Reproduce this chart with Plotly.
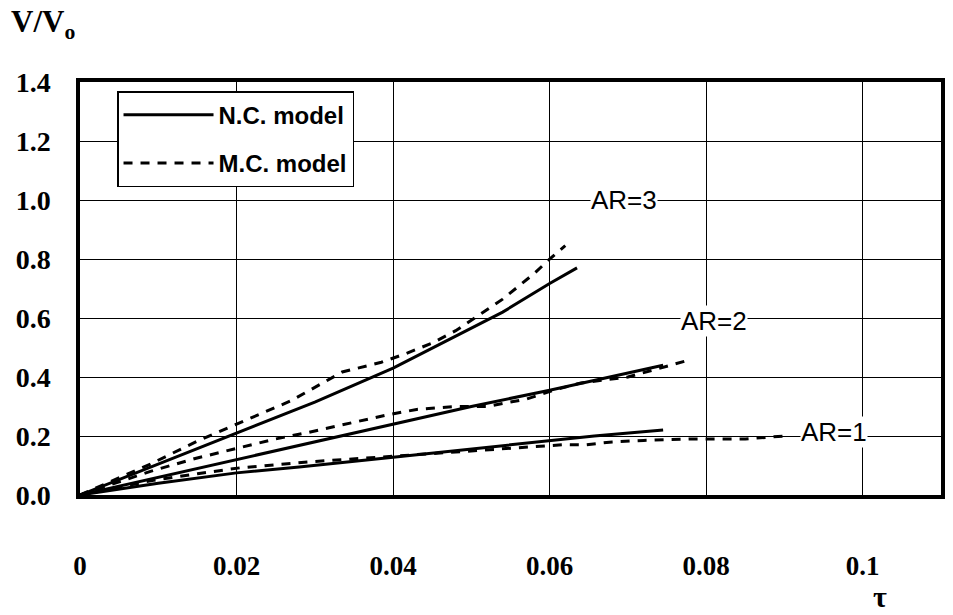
import plotly.graph_objects as go

# ---- data (relative to its grid) ----
ar3_nc_x = [0, 0.01, 0.02, 0.03, 0.04, 0.05, 0.054, 0.06, 0.0635]
ar3_nc_y = [0, 0.105, 0.21, 0.315, 0.43, 0.566, 0.62, 0.717, 0.77]

ar3_mc_x = [0, 0.009, 0.015, 0.02, 0.027, 0.0335, 0.0385, 0.0415, 0.045, 0.048, 0.051, 0.054, 0.058, 0.06, 0.062]
ar3_mc_y = [0, 0.105, 0.183, 0.24, 0.32, 0.417, 0.45, 0.478, 0.515, 0.557, 0.61, 0.664, 0.75, 0.80, 0.845]

ar2_nc_x = [0, 0.01, 0.02, 0.03, 0.04, 0.05, 0.06, 0.0745]
ar2_nc_y = [0, 0.06, 0.122, 0.18, 0.24, 0.30, 0.355, 0.44]

ar2_mc_x = [0, 0.009, 0.0146, 0.0198, 0.025, 0.0288, 0.034, 0.039, 0.043, 0.048, 0.052, 0.057, 0.0605, 0.064, 0.07, 0.0734, 0.0775]
ar2_mc_y = [0, 0.08, 0.123, 0.157, 0.19, 0.21, 0.24, 0.27, 0.29, 0.30, 0.30, 0.325, 0.355, 0.38, 0.40, 0.425, 0.455]

ar1_nc_x = [0, 0.01, 0.02, 0.028, 0.04, 0.05, 0.06, 0.0657, 0.0745]
ar1_nc_y = [0, 0.04, 0.075, 0.095, 0.128, 0.157, 0.185, 0.2, 0.22]

ar1_mc_x = [0, 0.0094, 0.015, 0.0204, 0.0297, 0.0365, 0.045, 0.055, 0.062, 0.0645, 0.068, 0.072, 0.078, 0.085, 0.09]
ar1_mc_y = [0, 0.05, 0.072, 0.092, 0.113, 0.125, 0.14, 0.16, 0.171, 0.17, 0.18, 0.185, 0.19, 0.19, 0.2]

x_ticks = [0, 0.02, 0.04, 0.06, 0.08, 0.1]
x_tick_text = ["0", "0.02", "0.04", "0.06", "0.08", "0.1"]
y_ticks = [0, 0.2, 0.4, 0.6, 0.8, 1.0, 1.2, 1.4]
y_tick_text = ["0.0", "0.2", "0.4", "0.6", "0.8", "1.0", "1.2", "1.4"]

ar_labels = ["AR=3", "AR=2", "AR=1"]
ar_label_x = [0.0695, 0.081, 0.0963]
ar_label_y = [1.0, 0.59, 0.215]

SOLID = dict(color="black", width=3)
DASHED = dict(color="black", width=3, dash="9px,8px")

fig = go.Figure()
fig.add_trace(go.Scatter(x=ar3_nc_x, y=ar3_nc_y, mode="lines", line=SOLID,
                         name="N.C. model", legendgroup="nc", showlegend=True))
fig.add_trace(go.Scatter(x=ar3_mc_x, y=ar3_mc_y, mode="lines", line=DASHED,
                         name="M.C. model", legendgroup="mc", showlegend=True))
fig.add_trace(go.Scatter(x=ar2_nc_x, y=ar2_nc_y, mode="lines", line=SOLID,
                         name="N.C. model", legendgroup="nc", showlegend=False))
fig.add_trace(go.Scatter(x=ar2_mc_x, y=ar2_mc_y, mode="lines", line=DASHED,
                         name="M.C. model", legendgroup="mc", showlegend=False))
fig.add_trace(go.Scatter(x=ar1_nc_x, y=ar1_nc_y, mode="lines", line=SOLID,
                         name="N.C. model", legendgroup="nc", showlegend=False))
fig.add_trace(go.Scatter(x=ar1_mc_x, y=ar1_mc_y, mode="lines", line=DASHED,
                         name="M.C. model", legendgroup="mc", showlegend=False))

for t, xx, yy in zip(ar_labels, ar_label_x, ar_label_y):
    fig.add_annotation(x=xx, y=yy, xref="x", yref="y", text=t, showarrow=False,
                       bgcolor="white", borderpad=0,
                       font=dict(family="Liberation Sans, Arial", size=26, color="black"))

serif = "Liberation Serif, Times New Roman, serif"

fig.add_annotation(xref="paper", yref="paper", x=-0.082, y=1.14, xanchor="left", yanchor="middle",
                   text="<b>V/V<sub>o</sub></b>", showarrow=False,
                   font=dict(family=serif, size=31, color="black"))
fig.add_annotation(xref="paper", yref="paper", x=0.929, y=-0.245, xanchor="center", yanchor="middle",
                   text="<b>τ</b>", showarrow=False,
                   font=dict(family=serif, size=30, color="black"))

fig.update_layout(
    width=953, height=615,
    margin=dict(l=80, r=8, t=82, b=120),
    paper_bgcolor="white", plot_bgcolor="white",
    showlegend=True,
    legend=dict(x=0.043, y=0.978, xanchor="left", yanchor="top",
                bgcolor="white", bordercolor="black", borderwidth=1.5,
                itemwidth=90, tracegroupgap=14,
                font=dict(family="Liberation Sans, Arial", size=24, color="black", weight="bold")),
)
fig.update_xaxes(range=[0, 0.11], tickvals=x_ticks, ticktext=x_tick_text,
                 showgrid=True, gridcolor="black", gridwidth=1, zeroline=False,
                 showline=True, linecolor="black", linewidth=3.5, mirror=True,
                 ticks="", ticklabelstandoff=44,
                 tickfont=dict(family=serif, size=27, color="black", weight="bold"))
fig.update_yaxes(range=[0, 1.4], tickvals=y_ticks, ticktext=y_tick_text,
                 showgrid=True, gridcolor="black", gridwidth=1, zeroline=False,
                 showline=True, linecolor="black", linewidth=3.5, mirror=True,
                 ticks="", ticklabelstandoff=20,
                 tickfont=dict(family=serif, size=28, color="black", weight="bold"))

fig.write_html("out.html")
